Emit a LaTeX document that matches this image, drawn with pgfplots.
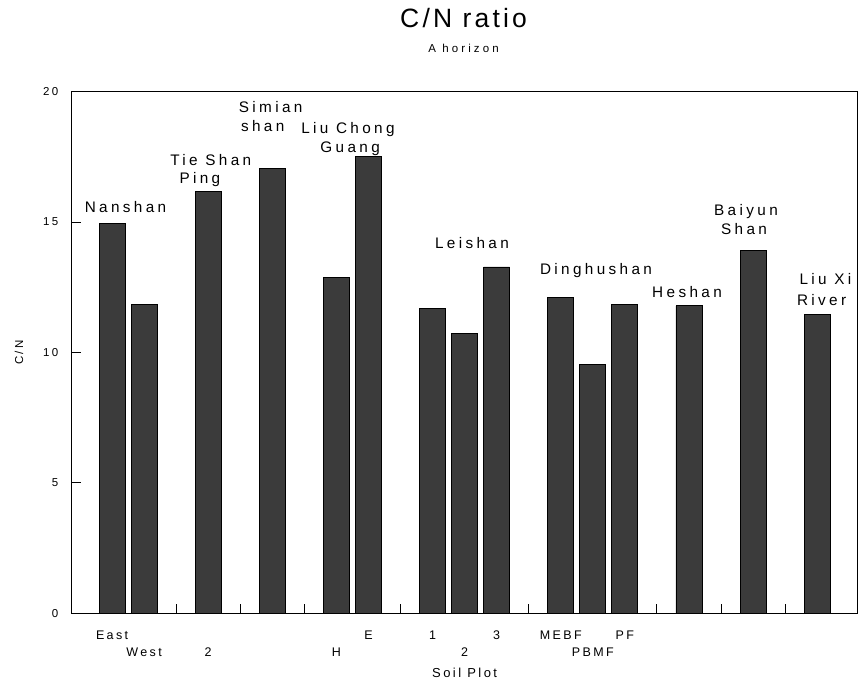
\documentclass[border=0pt]{standalone}
\usepackage{fontspec}
\usepackage{pgfplots}
\pgfplotsset{compat=1.18}
\setmainfont{Liberation Sans}
\newfontfamily\fTitle[LetterSpace=12]{Liberation Sans}
\newfontfamily\fWide[LetterSpace=22]{Liberation Sans}
\newfontfamily\fSub[LetterSpace=27]{Liberation Sans}
\newfontfamily\fTick[LetterSpace=19]{Liberation Sans}
\definecolor{barfill}{gray}{0.23}
\begin{document}
\begin{tikzpicture}
\begin{axis}[
  scale only axis,
  width=785.8pt, height=521.6pt,
  xmin=-1.26, xmax=23.26,
  ymin=0, ymax=20,
  axis line style={line width=0.9pt},
  xtick={2,4,6,9,13,17,19,21},
  xticklabels={},
  xtick align=inside,
  ytick align=inside,
  xtick pos=bottom,
  ytick pos=left,
  ytick={0,5,10,15,20},
  major tick length=9pt,
  tick style={line width=0.9pt, black},
  /pgf/number format/assume math mode=true,
  yticklabel style={font=\fTick\fontsize{11.5}{13}\selectfont, xshift=-10pt},
  clip=false,
]
\addplot[ybar, bar width=26pt, fill=barfill, draw=black, line width=0.8pt] coordinates {
  (0,14.95) (1,11.85) (3,16.16) (5,17.06) (7,12.88) (8,17.52)
  (10,11.70) (11,10.72) (12,13.28) (14,12.11) (15,9.54) (16,11.84)
  (18,11.79) (20,13.90) (22,11.47)
};
% group labels
\begin{scope}[every node/.style={anchor=base, inner sep=0pt, font=\fWide\fontsize{15.3}{17}\selectfont}]
\node at (axis cs:0.42,15.37) {Nanshan};
\node at (axis cs:3.08,17.16) {Tie Shan};
\node at (axis cs:2.74,16.49) {Ping};
\node at (axis cs:4.95,19.22) {Simian};
\node at (axis cs:4.70,18.47) {shan};
\node at (axis cs:7.36,18.38) {Liu Chong};
\node at (axis cs:7.43,17.66) {Guang};
\node at (axis cs:11.23,14.00) {Leishan};
\node at (axis cs:15.10,12.98) {Dinghushan};
\node at (axis cs:17.94,12.09) {Heshan};
\node at (axis cs:19.78,15.24) {Baiyun};
\node at (axis cs:19.72,14.51) {Shan};
\node at (axis cs:22.26,12.60) {Liu Xi};
\node at (axis cs:22.14,11.79) {River};
\end{scope}
% category tick labels (two staggered rows)
\begin{scope}[every node/.style={anchor=base, inner sep=0pt, font=\fTick\fontsize{12.5}{14}\selectfont}]
\node[yshift=-25.7pt] at (axis cs:0,0) {East};
\node[yshift=-42.7pt] at (axis cs:1,0) {West};
\node[yshift=-42.7pt] at (axis cs:3,0) {2};
\node[yshift=-42.7pt] at (axis cs:7,0) {H};
\node[yshift=-25.7pt] at (axis cs:8,0) {E};
\node[yshift=-25.7pt] at (axis cs:10,0) {1};
\node[yshift=-42.7pt] at (axis cs:11,0) {2};
\node[yshift=-25.7pt] at (axis cs:12,0) {3};
\node[yshift=-25.7pt] at (axis cs:14,0) {MEBF};
\node[yshift=-42.7pt] at (axis cs:15,0) {PBMF};
\node[yshift=-25.7pt] at (axis cs:16,0) {PF};
\end{scope}
\coordinate (BL) at (rel axis cs:0,0);
\coordinate (TR) at (rel axis cs:1,1);
\coordinate (TM) at (rel axis cs:0.5,1);
\coordinate (BM) at (rel axis cs:0.5,0);
\coordinate (LM) at (rel axis cs:0,0.5);
\end{axis}
\node[anchor=base, inner sep=0pt, font=\fTitle\fontsize{26.5}{30}\selectfont] at ([xshift=-1pt, yshift=63.7pt]TM) {C/N ratio};
\node[anchor=base, inner sep=0pt, font=\fSub\fontsize{11.5}{13}\selectfont] at ([xshift=-1pt, yshift=38.7pt]TM) {A horizon};
\node[anchor=base, inner sep=0pt, font=\fTick\fontsize{13}{15}\selectfont] at ([yshift=-63.7pt]BM) {Soil Plot};
\node[rotate=90, inner sep=0pt, font=\fTick\fontsize{11.5}{13}\selectfont] at ([xshift=-52.7pt]LM) {C/N};
\pgfresetboundingbox
\path ([xshift=-71.7pt, yshift=-69.7pt]BL) rectangle ([xshift=1.5pt, yshift=91.7pt]TR);
\end{tikzpicture}
\end{document}
